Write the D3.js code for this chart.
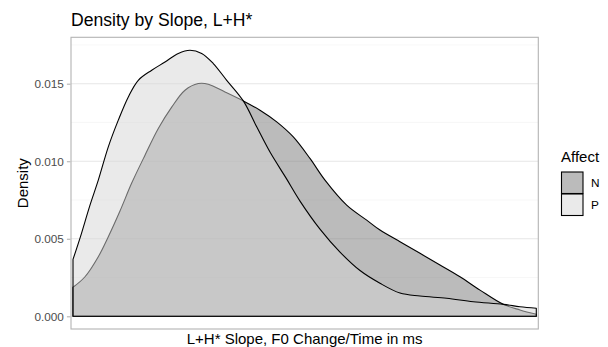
<!DOCTYPE html>
<html><head><meta charset="utf-8">
<script src="https://cdn.jsdelivr.net/npm/d3@7"></script>
<style>body{margin:0;background:#fff;} text{font-family:"Liberation Sans",Arial,sans-serif;}</style>
</head><body>
<svg id="chart" width="608" height="347"></svg>
<script>
// Data (x in arbitrary slope units, no axis labels shown)
const slopeN = [0,2.59,5.46,7.62,10.14,12.67,15.54,18.41,21.30,24.17,27.04,29.20,32.81,36.76,40.36,43.97,47.55,51.15,54.39,59.07,63.39,66.26,70.58,74.90,79.21,83.53,87.85,92.88,96.48,100];
const densityN = [0.00187,0.00255,0.00384,0.00513,0.00679,0.00859,0.01039,0.01211,0.01349,0.01458,0.01501,0.01497,0.01447,0.01389,0.01329,0.01254,0.01157,0.01018,0.00878,0.00717,0.00620,0.00556,0.00481,0.00406,0.00331,0.00255,0.00169,0.00077,0.00041,0.00013];
const slopeP = [0,1.51,3.67,5.46,7.62,9.78,11.94,14.09,16.99,19.86,22.73,25.25,27.78,30.28,33.18,36.76,39.65,42.52,46.0,49.0,53.31,57.63,61.95,66.26,70.58,74.90,80.66,86.40,92.88,96.48,100];
const densityP = [0.00367,0.00504,0.00717,0.00878,0.01093,0.01265,0.01415,0.01522,0.01587,0.01640,0.01695,0.01716,0.01695,0.01630,0.01522,0.01389,0.01222,0.01059,0.00891,0.00743,0.00562,0.00414,0.00295,0.00213,0.00150,0.00131,0.00116,0.00094,0.00077,0.00062,0.00052];
const groups = ["N","P"];
const yTicks = [0, 0.005, 0.010, 0.015];
const yMinor = [0.0025, 0.0075, 0.0125, 0.0175];
const yTickLabels = ["0.000","0.005","0.010","0.015"];

const svg = d3.select("#chart");
const panel = {left:71, right:538.3, top:37.3, bottom:329};
const x = d3.scaleLinear().domain([0,100]).range([73,536.3]);
const y = d3.scaleLinear().domain([0,0.015]).range([316.3,83.7]);

svg.append("rect").attr("x",panel.left).attr("y",panel.top)
  .attr("width",panel.right-panel.left).attr("height",panel.bottom-panel.top).attr("fill","#fff");
svg.selectAll(".gmin").data(yMinor).join("line")
  .attr("x1",panel.left).attr("x2",panel.right)
  .attr("y1",d=>y(d)).attr("y2",d=>y(d))
  .attr("stroke","#f2f2f2").attr("stroke-width",0.6);
svg.selectAll(".gmaj").data(yTicks).join("line")
  .attr("x1",panel.left).attr("x2",panel.right)
  .attr("y1",d=>y(d)).attr("y2",d=>y(d))
  .attr("stroke","#e6e6e6").attr("stroke-width",1.1);

const fills = {N:"#777777", P:"#d6d6d6"};
const series = {
  N: slopeN.map((s,i)=>({s, d:densityN[i]})),
  P: slopeP.map((s,i)=>({s, d:densityP[i]}))
};
const area = d3.area().x(d=>x(d.s)).y0(y(0)).y1(d=>y(d.d)).curve(d3.curveCatmullRom.alpha(0.5));
groups.forEach(g=>{
  svg.append("path").datum(series[g]).attr("d",area)
    .attr("fill",fills[g]).attr("fill-opacity",0.5)
    .attr("stroke","#000").attr("stroke-width",1.1).attr("stroke-linejoin","round");
});

svg.append("rect").attr("x",panel.left).attr("y",panel.top)
  .attr("width",panel.right-panel.left).attr("height",panel.bottom-panel.top)
  .attr("fill","none").attr("stroke","#b3b3b3").attr("stroke-width",1.1);

const yAxis = d3.axisLeft(y).tickValues(yTicks).tickSize(3.6).tickPadding(3)
  .tickFormat((d,i)=>yTickLabels[i]);
const ga = svg.append("g").attr("transform",`translate(${panel.left-0.5},0)`).call(yAxis);
ga.select(".domain").remove();
ga.selectAll(".tick line").attr("stroke","#b3b3b3").attr("stroke-width",1.1);
ga.selectAll(".tick text").attr("fill","#4d4d4d").style("font-size","11.8px")
  .style("font-family","'Liberation Sans',Arial,sans-serif");

svg.append("text").attr("x",71).attr("y",26).style("font-size","17.6px").attr("fill","#000")
  .text("Density by Slope, L+H*");
svg.append("text").attr("x",(panel.left+panel.right)/2).attr("y",344).attr("text-anchor","middle")
  .style("font-size","15px").attr("fill","#000").text("L+H* Slope, F0 Change/Time in ms");
svg.append("text").attr("transform",`translate(28,${(panel.top+panel.bottom)/2}) rotate(-90)`)
  .attr("text-anchor","middle").style("font-size","15px").attr("fill","#000").text("Density");

svg.append("text").attr("x",561).attr("y",162).style("font-size","15px").attr("fill","#000").text("Affect");
groups.forEach((g,i)=>{
  const ky = 172 + i*22;
  svg.append("rect").attr("x",561.5).attr("y",ky).attr("width",21.5).attr("height",21.5).attr("fill","#fff");
  svg.append("rect").attr("x",561.5).attr("y",ky).attr("width",21.5).attr("height",21.5)
    .attr("fill",fills[g]).attr("fill-opacity",0.5).attr("stroke","#000").attr("stroke-width",1.1);
  svg.append("text").attr("x",591).attr("y",ky+11).attr("dy","0.36em")
    .style("font-size","11.8px").attr("fill","#000").text(g);
});
</script>
</body></html>
